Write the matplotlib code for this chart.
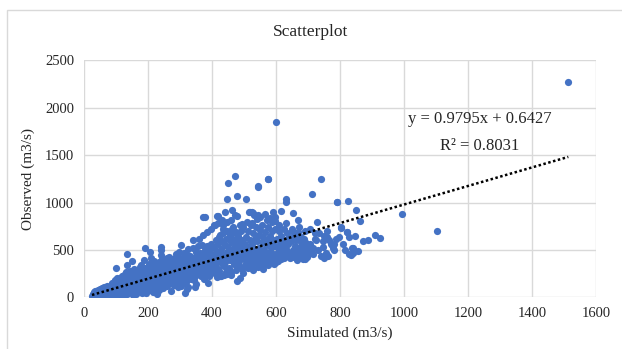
import numpy as np
import matplotlib
matplotlib.use("Agg")
import matplotlib.pyplot as plt
from matplotlib.patches import Rectangle

# simulated / observed flows (m3/s)
sim_a = [25, 27, 28, 30, 30, 32, 33, 34, 35, 36, 37, 38, 40, 40, 41, 42, 43, 44, 45, 46, 47, 48, 50, 50, 52,
         53, 55, 56, 57, 58, 60, 60, 62, 63, 65, 66, 68, 70, 71, 72, 74, 75, 77, 78, 80]
obs_a = [18, 40, 25, 10, 52, 30, 45, 20, 62, 35, 15, 50, 28, 70, 42, 22, 60, 38, 75, 12, 55, 33, 48, 85, 25,
         65, 40, 95, 20, 58, 35, 78, 50, 105, 28, 68, 45, 90, 30, 115, 60, 40, 82, 25, 100]

sim_b = [81, 84, 86, 88, 90, 91, 93, 95, 96, 98, 100, 101, 103, 104, 106, 108, 109, 111, 112, 114,
         115, 117, 118, 120, 121, 123, 124, 126, 127, 129, 130, 132, 133, 135, 136, 138, 139, 141, 142, 144,
         145, 147, 148, 150, 83, 87, 92, 97, 102, 107, 110, 113, 116, 119, 122, 125, 128, 131, 134, 137,
         140, 143, 146, 149, 85, 94, 105, 115, 125, 135, 145, 89, 99, 119, 139, 92, 112, 132, 142, 148]
obs_b = [60, 110, 35, 150, 80, 20, 125, 65, 180, 45, 95, 140, 30, 200, 75, 115, 55, 165, 10, 95,
         130, 70, 220, 45, 105, 160, 25, 140, 85, 250, 60, 190, 110, 40, 175, 135, 75, 210, 120, 95,
         260, 150, 55, 190, 90, 130, 15, 170, 70, 115, 45, 200, 140, 85, 230, 25, 160, 100, 60, 185,
         120, 280, 70, 150, 50, 105, 175, 35, 95, 340, 215, 145, 310, 80, 240, 5, 130, 270, 100, 60]

sim_c = [151, 152, 154, 155, 157, 158, 160, 161, 163, 164, 166, 167, 169, 170, 172, 173, 175, 176, 178, 179,
         181, 182, 184, 185, 187, 188, 190, 191, 193, 194, 196, 197, 199, 200, 202, 203, 205, 206, 208, 209,
         211, 212, 214, 215, 217, 218, 219, 220, 153, 159, 165, 171, 177, 183, 189, 195, 201, 207, 213, 156,
         162, 168, 174, 180, 186, 192, 198, 204, 210, 216, 150, 170, 190, 210, 160, 180, 200, 175, 195, 215,
         135, 189, 205, 242, 302, 150]
obs_c = [120, 210, 65, 170, 300, 95, 145, 250, 40, 190, 110, 280, 160, 70, 225, 130, 320, 85, 200, 150,
         260, 100, 180, 55, 240, 140, 310, 90, 210, 165, 120, 270, 75, 195, 350, 230, 140, 290, 180, 110,
         250, 330, 200, 60, 160, 270, 380, 220, 30, 140, 260, 90, 340, 120, 230, 45, 175, 300, 210, 155,
         95, 190, 270, 135, 390, 215, 165, 80, 310, 240, 180, 110, 70, 420, 200, 50, 150, 250, 180, 280,
         454, 517, 481, 534, 552, 380]

sim_d = [221, 223, 224, 226, 228, 229, 231, 233, 234, 236, 238, 239, 241, 243, 244, 246, 248, 249, 251, 253,
         254, 256, 258, 259, 261, 263, 264, 266, 268, 269, 271, 273, 274, 276, 278, 279, 281, 283, 284, 286,
         288, 289, 291, 293, 294, 296, 298, 299, 225, 232, 237, 242, 247, 252, 257, 262, 267, 272, 277, 282,
         287, 292, 297, 227, 235, 245, 255, 265, 275, 285, 295, 240, 260, 280, 230, 250, 270, 290, 222, 300]
obs_d = [180, 260, 110, 330, 220, 150, 290, 80, 370, 200, 250, 130, 310, 420, 175, 240, 100, 350, 210, 280,
         160, 390, 230, 120, 300, 190, 260, 430, 150, 340, 220, 70, 280, 180, 400, 250, 130, 320, 200, 460,
         270, 160, 360, 230, 110, 300, 410, 250, 60, 240, 190, 450, 280, 140, 320, 210, 380, 260, 170, 350,
         230, 290, 480, 40, 210, 160, 330, 250, 300, 200, 370, 500, 420, 130, 90, 270, 230, 440, 300, 220]

sim_e = [301, 303, 305, 307, 309, 311, 313, 315, 317, 319, 321, 323, 325, 327, 329, 331, 333, 335, 337, 339,
         341, 343, 345, 347, 349, 351, 353, 355, 357, 359, 361, 363, 365, 367, 369, 371, 373, 375, 377, 379,
         381, 383, 385, 387, 389, 391, 393, 395, 397, 399, 304, 310, 318, 326, 334, 342, 350, 358, 366, 374,
         382, 390, 398, 306, 316, 322, 338, 346, 354, 362, 370, 378, 386, 394, 315, 346, 388, 321, 352, 372,
         372, 378, 385, 372, 340, 360, 395]
obs_e = [260, 340, 180, 420, 300, 230, 470, 150, 360, 290, 400, 210, 510, 330, 250, 440, 190, 380, 300, 520,
         270, 420, 340, 230, 480, 360, 300, 540, 250, 410, 330, 460, 280, 390, 550, 320, 430, 260, 500, 370,
         450, 300, 540, 410, 350, 480, 390, 560, 330, 450, 120, 200, 160, 110, 210, 180, 140, 250, 230, 190,
         280, 220, 260, 310, 380, 450, 360, 400, 300, 470, 420, 350, 510, 470, 49, 106, 154, 84, 253, 235,
         851, 845, 693, 658, 600, 620, 720]

sim_f = [401, 403, 405, 407, 409, 411, 413, 415, 417, 419, 421, 423, 425, 427, 429, 431, 433, 435, 437, 439,
         441, 443, 445, 447, 449, 451, 453, 455, 457, 459, 461, 463, 465, 467, 469, 471, 473, 475, 477, 479,
         481, 483, 485, 487, 489, 491, 493, 495, 497, 499, 404, 412, 420, 428, 436, 444, 452, 460, 468, 476,
         484, 492, 406, 418, 426, 434, 446, 456, 464, 474, 482, 494, 414, 438, 458, 478, 498, 424, 448, 488,
         419, 435, 445, 450, 461, 473, 477, 477, 487, 414, 471, 440, 430, 410, 460]
obs_f = [380, 450, 320, 520, 410, 600, 350, 480, 560, 300, 640, 430, 380, 510, 590, 460, 340, 680, 420, 550,
         370, 620, 480, 700, 400, 530, 450, 660, 390, 580, 500, 720, 430, 610, 360, 540, 680, 470, 590, 420,
         650, 510, 380, 560, 700, 440, 600, 520, 740, 470, 300, 250, 280, 220, 330, 270, 310, 240, 350, 290,
         330, 300, 760, 780, 660, 720, 800, 640, 740, 690, 620, 770, 218, 235, 270, 172, 260, 230, 250, 200,
         858, 763, 1038, 1204, 922, 1278, 1073, 858, 763, 858, 869, 900, 820, 760, 820]

sim_g = [501, 503, 505, 507, 509, 511, 513, 515, 517, 519, 521, 523, 525, 527, 529, 531, 533, 535, 537, 539,
         541, 543, 545, 547, 549, 551, 553, 555, 557, 559, 561, 563, 565, 567, 569, 571, 573, 575, 577, 579,
         581, 583, 585, 587, 589, 591, 593, 595, 597, 599, 504, 512, 520, 528, 536, 544, 552, 560, 568, 576,
         584, 592, 508, 524, 540, 556, 572, 588, 516, 532, 548, 564, 580, 596, 590,
         505, 518, 524, 528, 543, 544, 573, 575, 543, 568, 599, 596, 601, 615]
obs_g = [420, 560, 380, 640, 470, 700, 350, 520, 600, 440, 760, 390, 560, 480, 680, 410, 620, 500, 740, 370,
         590, 450, 660, 520, 400, 710, 470, 580, 360, 640, 500, 430, 690, 550, 380, 610, 470, 740, 420, 560,
         650, 390, 520, 700, 460, 600, 380, 540, 720, 450, 340, 310, 330, 290, 360, 320, 350, 300, 359, 340,
         380, 350, 800, 780, 830, 760, 820, 790, 900, 870, 850, 880, 840, 810, 900,
         1041, 904, 897, 893, 1172, 872, 1252, 1252, 1168, 359, 376, 845, 1851, 911]

sim_h = [601, 603, 606, 608, 611, 613, 616, 618, 621, 623, 626, 628, 631, 633, 636, 638, 641, 643, 646, 648,
         651, 653, 656, 658, 661, 663, 666, 668, 671, 673, 676, 678, 681, 683, 686, 688, 691, 693, 696, 698,
         605, 615, 625, 635, 645, 655, 665, 675, 685, 695, 610, 630, 650, 670, 690,
         622, 630, 630, 648, 653, 669, 690]
obs_h = [460, 620, 520, 700, 410, 580, 650, 480, 540, 720, 440, 600, 510, 680, 470, 560, 630, 420, 590, 700,
         500, 450, 650, 540, 480, 610, 430, 690, 520, 460, 580, 640, 410, 550, 500, 620, 440, 570, 480, 530,
         380, 400, 420, 450, 422, 470, 390, 450, 404, 430, 760, 780, 720, 740, 700,
         465, 1006, 1035, 422, 887, 816, 404]

sim_i = [705, 711, 716, 720, 726, 730, 735, 739, 740, 745, 747, 750, 755, 758, 762, 765, 770, 773, 776, 782,
         786, 789, 790, 795, 801, 802, 808, 815, 820, 821, 823, 827, 828, 833, 837, 839, 841, 845, 849, 857,
         863, 870, 886, 910, 924, 710, 715, 725, 760, 780, 750, 705, 720, 992, 1101, 1512]
obs_i = [560, 1094, 457, 620, 798, 500, 680, 439, 1246, 590, 528, 650, 470, 703, 436, 600, 560, 552, 520, 499,
         619, 1003, 1006, 640, 739, 735, 560, 500, 693, 693, 1020, 634, 454, 447, 517, 517, 465, 651, 922, 489,
         806, 595, 608, 658, 623, 470, 520, 600, 640, 560, 420, 720, 680, 876, 700, 2277]

slope = 0.9795
intercept = 0.6427
r2 = 0.8031

sim = np.array(sim_a + sim_b + sim_c + sim_d + sim_e + sim_f + sim_g + sim_h + sim_i)
obs = np.array(obs_a + obs_b + obs_c + obs_d + obs_e + obs_f + obs_g + obs_h + obs_i)

plt.rcParams['font.family'] = ['Liberation Serif', 'DejaVu Serif']

fig = plt.figure(figsize=(6.22, 3.49), dpi=100)
ax = fig.add_axes([0.135, 0.148, 0.824, 0.679])

# chart area border
fig.patches.append(Rectangle((7 / 622, -0.05), 1.0, 1 - 10 / 349 + 0.05, transform=fig.transFigure,
                             fill=False, edgecolor='#D9D9D9', linewidth=1))

ax.scatter(sim, obs, s=27, color='#4472C4', linewidths=0, zorder=3)

xs = np.array([sim.min(), sim.max()])
ax.plot(xs, slope * xs + intercept, color='black', linestyle=(0, (1, 1)), linewidth=1.8, zorder=4)

ax.text(1236, 1883, "y = 0.9795x + 0.6427", ha='center', va='center', fontsize=12, color='#262626')
ax.text(1236, 1598, "R\u00b2 = %.4f" % r2, ha='center', va='center', fontsize=12, color='#262626')

ax.set_xlim(0, 1600)
ax.set_ylim(0, 2500)
ax.set_xticks(range(0, 1601, 200))
ax.set_yticks(range(0, 2501, 500))
ax.grid(True, color='#D9D9D9', linewidth=1)
ax.set_axisbelow(True)
for s in ax.spines.values():
    s.set_visible(False)
ax.tick_params(length=0, labelsize=10.5, labelcolor='#262626', pad=7)

ax.set_xlabel("Simulated (m3/s)", fontsize=11, color='#262626', labelpad=5)
ax.set_ylabel("Observed (m3/s)", fontsize=11, color='#262626', labelpad=7)
fig.text(0.5, 1 - 32 / 349, "Scatterplot", ha='center', va='center', fontsize=12.5, color='#262626')

plt.savefig("out.png", dpi=100)
plt.close()
